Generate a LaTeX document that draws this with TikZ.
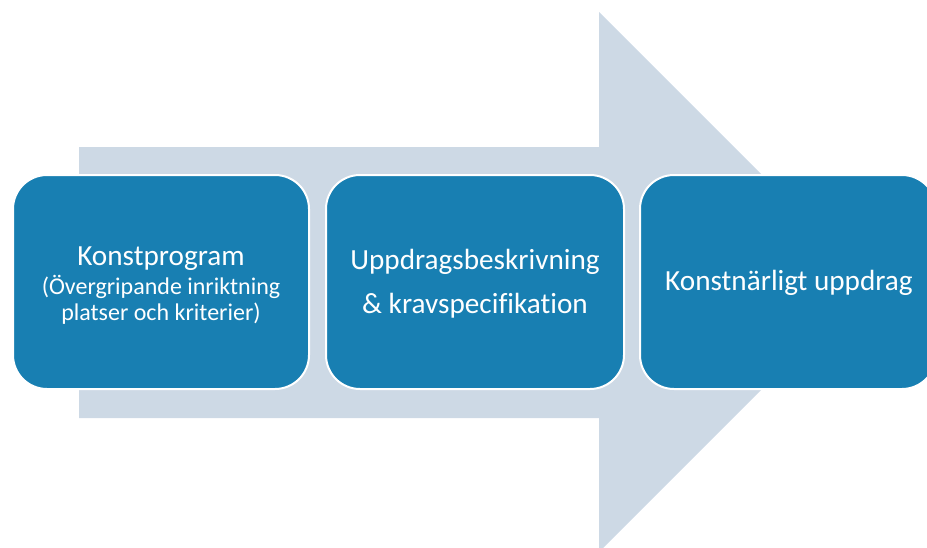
\documentclass[tikz,border=0pt]{standalone}
\usepackage{fontspec}
\setmainfont{Carlito}[RawFeature={-liga}]
\definecolor{arrowgray}{RGB}{205,217,229}
\definecolor{boxblue}{RGB}{24,127,178}
\tikzset{
  stepbox/.style={draw=white, line width=2pt, fill=boxblue, rounded corners=34pt,
    inner sep=0pt, outer sep=0pt, minimum height=214pt},
  bigtxt/.style={text=white, inner sep=0pt, anchor=base, font=\fontsize{29.2}{34}\selectfont},
  smalltxt/.style={text=white, inner sep=0pt, anchor=base, font=\fontsize{24}{28}\selectfont}
}
\begin{document}
\begin{tikzpicture}[x=1pt,y=-1pt]
\useasboundingbox (0,0) rectangle (927,547);
\clip (0,0) rectangle (927,547);
% big arrow
\fill[arrowgray] (79,147) -- (599,147) -- (599,12) -- (869,282) -- (599,552) -- (599,418) -- (79,418) -- cycle;
% boxes
\node[stepbox, minimum width=296pt] (b1) at (161,282) {};
\node[stepbox, minimum width=298pt] (b2) at (475,282) {};
\node[stepbox, minimum width=296pt] (b3) at (788,282) {};
% texts
\node[bigtxt] (t1a) at (161,265) {Konstprogram};
\node[smalltxt] (t1b) at (161,294) {(Övergripande inriktning};
\node[smalltxt] (t1c) at (161,320) {platser och kriterier)};
\node[bigtxt] (t2a) at (475,269) {Uppdragsbeskrivning};
\node[bigtxt] (t2b) at (475,313) {\& kravspecifikation};
\node[bigtxt] (t3a) at (789,290) {Konstnärligt uppdrag};
\end{tikzpicture}
\end{document}
